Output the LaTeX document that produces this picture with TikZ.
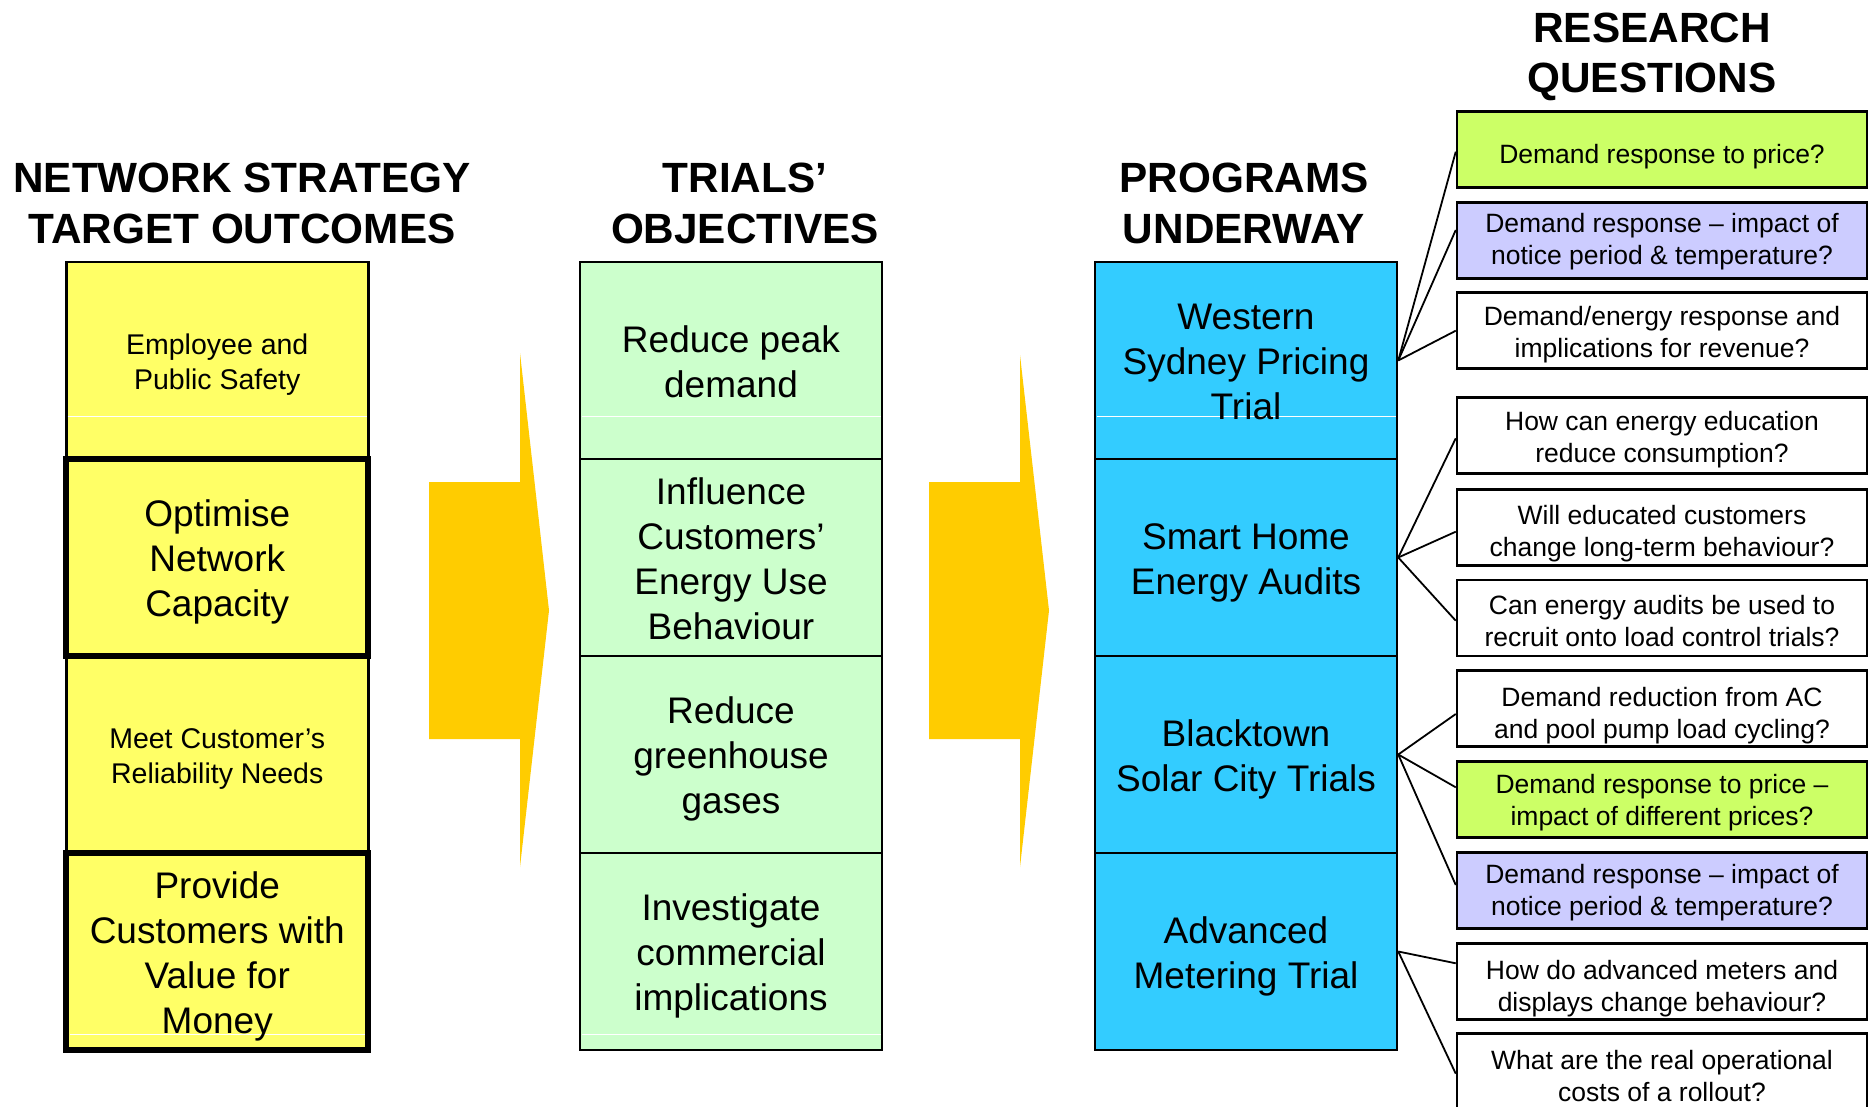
\documentclass[tikz,border=0pt]{standalone}
\usepackage{fontspec}
\setmainfont{Liberation Sans}
\definecolor{yfill}{HTML}{FFFF66}
\definecolor{gfill}{HTML}{CCFFCC}
\definecolor{bfill}{HTML}{33CCFF}
\definecolor{qlime}{HTML}{CCFF66}
\definecolor{qlav}{HTML}{CCCCFF}
\definecolor{arrowc}{HTML}{FFCC00}
\newcommand{\topst}[1]{\rule{0pt}{#1pt}}
\begin{document}
\begin{tikzpicture}[x=1pt,y=-1pt,
  botst/.style={execute at end node={\rule[-#1]{0pt}{#1}}},
  cell/.style={draw=black, line width=2.5pt, minimum width=302pt, minimum height=197pt, inner sep=0pt},
  thickcell/.style={cell, line width=6pt},
  celltext/.style={align=center, inner sep=0pt, font=\fontsize{37}{45}\selectfont, botst=8.1pt},
  smalltext/.style={align=center, inner sep=0pt, font=\fontsize{28.5}{34.5}\selectfont, botst=6.3pt},
  hdr/.style={align=center, inner sep=0pt, font=\bfseries\fontsize{42.3}{50.4}\selectfont, botst=9.3pt},
  qbox/.style={draw=black, line width=2.5pt, minimum width=410pt, minimum height=76pt, inner sep=0pt, align=center, font=\fontsize{26.5}{32}\selectfont, botst=5.8pt},
  conn/.style={draw=black, line width=1.8pt},
  artline/.style={draw=white, line width=1pt},
  chevron/.style={fill=arrowc}
]
\useasboundingbox (0,0) rectangle (1870,1107);
\fill[white] (0,0) rectangle (1870,1107);

% headers
\node[hdr] (hnet) at (242,202.6) {\topst{39.8}NETWORK STRATEGY\\TARGET OUTCOMES};
\node[hdr] (htri) at (745,202.6) {\topst{39.8}TRIALS’\\OBJECTIVES};
\node[hdr] (hpro) at (1244,202.6) {\topst{39.8}PROGRAMS\\UNDERWAY};
\node[hdr] (hres) at (1652,52.3) {\topst{39.8}RESEARCH\\QUESTIONS};

% chevron arrows
\fill[chevron] (429,482) -- (520,482) -- (520,353) -- (549,610.5) -- (520,867) -- (520,739) -- (429,739) -- cycle;
\fill[chevron] (929,482) -- (1020,482) -- (1020,355) -- (1049,610.5) -- (1020,867) -- (1020,739) -- (929,739) -- cycle;

% yellow column
\node[cell, fill=yfill] (y1) at (217.25,360.5) {};
\node[cell, fill=yfill] (y3) at (217.25,754.5) {};
\node[thickcell, fill=yfill] (y2) at (217.25,557.5) {};
\node[thickcell, fill=yfill] (y4) at (217.25,951.5) {};
% green column
\node[cell, fill=gfill] (g1) at (731,360.5) {};
\node[cell, fill=gfill] (g2) at (731,557.5) {};
\node[cell, fill=gfill] (g3) at (731,754.5) {};
\node[cell, fill=gfill] (g4) at (731,951.5) {};
% blue column
\node[cell, fill=bfill] (b1) at (1246,360.5) {};
\node[cell, fill=bfill] (b2) at (1246,557.5) {};
\node[cell, fill=bfill] (b3) at (1246,754.5) {};
\node[cell, fill=bfill] (b4) at (1246,951.5) {};

% thin white lines inside boxes
\draw[artline] (67.5,416.3) -- (367,416.3);
\draw[artline] (581.5,416.3) -- (880.5,416.3);
\draw[artline] (1096.5,416.3) -- (1395.5,416.3);
\draw[artline] (70,1034) -- (364.5,1034);
\draw[artline] (581.5,1034) -- (880.5,1034);

% cell texts
\node[smalltext] (ty1) at (y1) {\topst{29.3}Employee and\\Public Safety};
\node[celltext] (ty2) at (y2) {\topst{36.1}Optimise\\Network\\Capacity};
\node[smalltext] (ty3) at (y3) {\topst{29.3}Meet Customer’s\\Reliability Needs};
\node[celltext] (ty4) at (y4) {\topst{36.1}Provide\\Customers with\\Value for\\Money};
\node[celltext] (tg1) at (g1) {\topst{36.1}Reduce peak\\demand};
\node[celltext] (tg2) at (g2) {\topst{36.1}Influence\\Customers’\\Energy Use\\Behaviour};
\node[celltext] (tg3) at (g3) {\topst{36.1}Reduce\\greenhouse\\gases};
\node[celltext] (tg4) at (g4) {\topst{36.1}Investigate\\commercial\\implications};
\node[celltext] (tb1) at (b1) {\topst{36.1}Western\\Sydney Pricing\\Trial};
\node[celltext] (tb2) at (b2) {\topst{36.1}Smart Home\\Energy Audits};
\node[celltext] (tb3) at (b3) {\topst{36.1}Blacktown\\Solar City Trials};
\node[celltext] (tb4) at (b4) {\topst{36.1}Advanced\\Metering Trial};

% research questions
\node[qbox, fill=qlime] (q1) at (1662,149.7) {\topst{33.4}Demand response to price?};
\node[qbox, fill=qlav] (q2) at (1662,240.7) {\topst{21.8}Demand response – impact of\\notice period \& temperature?};
\node[qbox, fill=white] (q3) at (1662,330.7) {\topst{26.4}Demand/energy response and\\implications for revenue?};
\node[qbox, fill=white] (q4) at (1662,435.7) {\topst{26.6}How can energy education\\reduce consumption?};
\node[qbox, fill=white] (q5) at (1662,527.3) {\topst{32.8}Will educated customers\\change long-term behaviour?};
\node[qbox, fill=white] (q6) at (1662,618) {\topst{31.4}Can energy audits be used to\\recruit onto load control trials?};
\node[qbox, fill=white] (q7) at (1662,708.7) {\topst{33.8}Demand reduction from AC\\and pool pump load cycling?};
\node[qbox, fill=qlime] (q8) at (1662,799.7) {\topst{26.2}Demand response to price –\\impact of different prices?};
\node[qbox, fill=qlav] (q9) at (1662,890.7) {\topst{23.4}Demand response – impact of\\notice period \& temperature?};
\node[qbox, fill=white] (q10) at (1662,981.5) {\topst{33.4}How do advanced meters and\\displays change behaviour?};
\node[qbox, fill=white] (q11) at (1662,1071.5) {\topst{33.6}What are the real operational\\costs of a rollout?};

% connectors
\draw[conn] (b1.east) -- ([yshift=-2pt]q1.west);
\draw[conn] (b1.east) -- ([yshift=10.7pt]q2.west);
\draw[conn] (b1.east) -- (q3.west);
\draw[conn] (b2.east) -- ([yshift=-2.6pt]q4.west);
\draw[conn] (b2.east) -- ([yshift=-4.4pt]q5.west);
\draw[conn] (b2.east) -- ([yshift=-2.7pt]q6.west);
\draw[conn] (b3.east) -- ([yshift=-5.3pt]q7.west);
\draw[conn] (b3.east) -- ([yshift=12.4pt]q8.west);
\draw[conn] (b3.east) -- ([yshift=5.7pt]q9.west);
\draw[conn] (b4.east) -- ([yshift=18.2pt]q10.west);
\draw[conn] (b4.east) -- ([yshift=-2.2pt]q11.west);
\end{tikzpicture}
\end{document}
